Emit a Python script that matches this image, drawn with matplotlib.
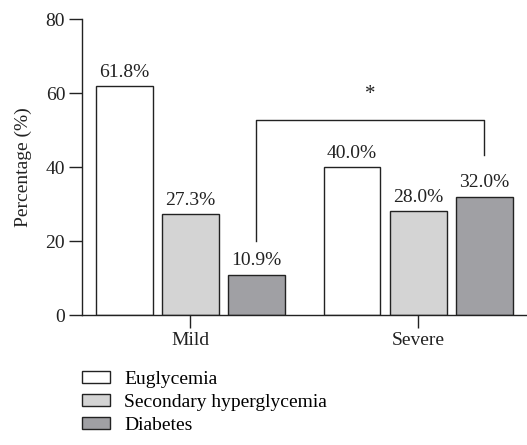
import numpy as np
import matplotlib
matplotlib.use('Agg')
from matplotlib import pyplot as plt

plt.rcParams['font.family'] = ['Liberation Serif', 'DejaVu Serif']

groups = ['Mild', 'Severe']
series = ['Euglycemia', 'Secondary hyperglycemia', 'Diabetes']
values = [[61.8, 40.0], [27.3, 28.0], [10.9, 32.0]]
labels = [['61.8%', '40.0%'], ['27.3%', '28.0%'], ['10.9%', '32.0%']]
colors = ['white', '#d4d4d4', '#a0a0a4']

fs = 14
ink = '#222222'

fig = plt.figure(figsize=(5.27, 4.45), dpi=100)
ax = fig.add_axes([0.156, 0.292, 0.844, 0.665])

x = np.arange(len(groups))
w = 0.25
step = 0.29
for i in range(3):
    pos = x + (i - 1) * step
    ax.bar(pos, values[i], w, color=colors[i], edgecolor=ink, linewidth=1.0, label=series[i])
    for p, v, t in zip(pos, values[i], labels[i]):
        ax.text(p, v + 1.5, t, ha='center', va='bottom', fontsize=fs, color=ink)

# significance bracket between diabetes bars
xl = x[0] + step
xr = x[1] + step
ax.plot([xl, xl, xr, xr], [20, 52.7, 52.7, 43.2], color=ink, lw=1.0)
ax.text((xl + xr) / 2, 57, '*', ha='center', va='bottom', fontsize=15, color=ink)

ax.set_xlim(-0.474, 1.478)
ax.set_ylim(0, 80)
ax.set_yticks([0, 20, 40, 60, 80])
ax.set_xticks(x)
ax.set_xticklabels(groups)
ax.set_ylabel('Percentage (%)', fontsize=fs, color=ink, labelpad=10)
for s in ['top', 'right']:
    ax.spines[s].set_visible(False)
for s in ['left', 'bottom']:
    ax.spines[s].set_linewidth(1.0)
    ax.spines[s].set_color(ink)
ax.tick_params(axis='both', labelsize=fs, colors=ink, width=1.0)
ax.tick_params(axis='y', length=9.3, pad=3)
ax.tick_params(axis='x', length=9, pad=3)

fig.legend(loc='upper left', bbox_to_anchor=(0.156, 0.166), frameon=False, fontsize=fs,
           handlelength=1.45, handleheight=0.57, labelspacing=0.3, handletextpad=0.72,
           borderaxespad=0, borderpad=0)

fig.savefig('out.png', dpi=100)
